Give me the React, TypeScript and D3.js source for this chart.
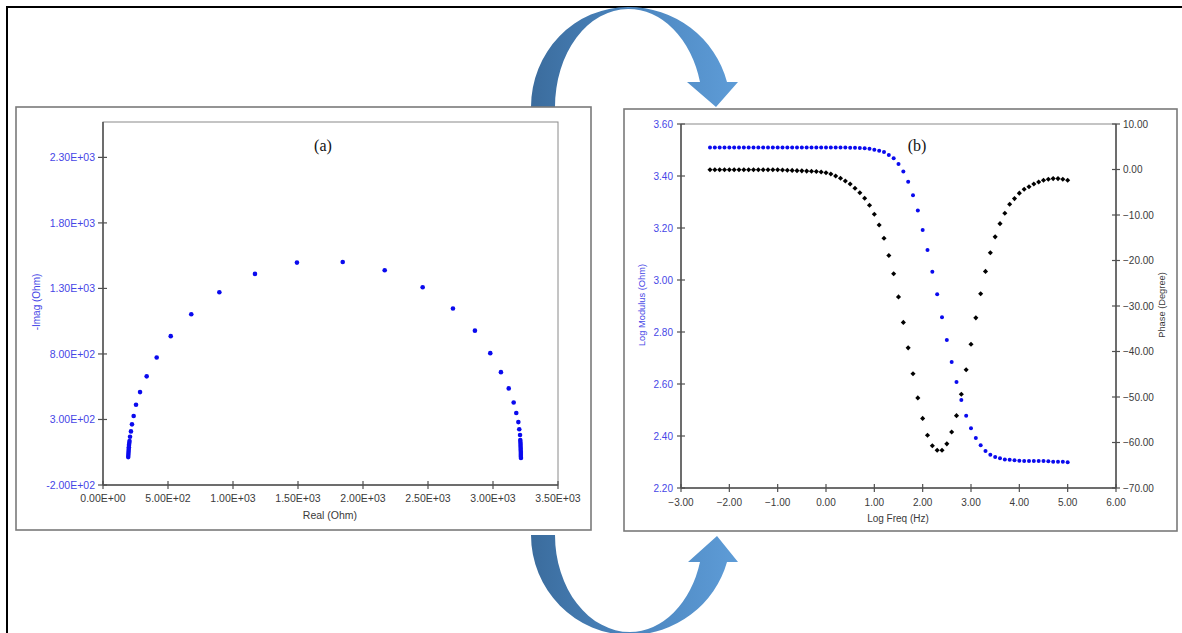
import React from "react";
import * as d3 from "d3";

// ---------- Panel (a): Nyquist data ----------
const nyqReal = [194, 195, 196, 197, 198, 199, 200, 202, 204, 208, 215, 223, 236, 254, 285, 336, 413, 521, 679, 895, 1169, 1492, 1844, 2167, 2459, 2692, 2861, 2979, 3061, 3121, 3159, 3179, 3195, 3202, 3208, 3210, 3211, 3212, 3212, 3213, 3213, 3214, 3214, 3214, 3215];
const nyqImag = [13, 28, 44, 59, 74, 89, 105, 120, 135, 168, 209, 263, 326, 412, 509, 629, 773, 936, 1103, 1271, 1411, 1497, 1502, 1439, 1309, 1147, 978, 806, 661, 537, 430, 349, 280, 225, 181, 143, 128, 112, 97, 82, 67, 51, 36, 21, 6];
const nyqXTicks = [0, 500, 1000, 1500, 2000, 2500, 3000, 3500];
const nyqYTicks = [-200, 300, 800, 1300, 1800, 2300];

// ---------- Panel (b): Bode data ----------
const logFreq = [-2.4, -2.3, -2.2, -2.1, -2.0, -1.9, -1.8, -1.7, -1.6, -1.5, -1.4, -1.3, -1.2, -1.1, -1.0, -0.9, -0.8, -0.7, -0.6, -0.5, -0.4, -0.3, -0.2, -0.1, 0.0, 0.1, 0.2, 0.3, 0.4, 0.5, 0.6, 0.7, 0.8, 0.9, 1.0, 1.1, 1.2, 1.3, 1.4, 1.5, 1.6, 1.7, 1.8, 1.9, 2.0, 2.1, 2.2, 2.3, 2.4, 2.5, 2.6, 2.7, 2.8, 2.9, 3.0, 3.1, 3.2, 3.3, 3.4, 3.5, 3.6, 3.7, 3.8, 3.9, 4.0, 4.1, 4.2, 4.3, 4.4, 4.5, 4.6, 4.7, 4.8, 4.9, 5.0];
const logModulus = [3.51, 3.51, 3.51, 3.51, 3.51, 3.51, 3.51, 3.51, 3.51, 3.51, 3.51, 3.51, 3.51, 3.51, 3.51, 3.51, 3.51, 3.51, 3.51, 3.51, 3.51, 3.51, 3.51, 3.51, 3.51, 3.51, 3.51, 3.51, 3.51, 3.509, 3.509, 3.508, 3.507, 3.505, 3.501, 3.497, 3.492, 3.481, 3.468, 3.446, 3.417, 3.378, 3.326, 3.267, 3.192, 3.115, 3.032, 2.945, 2.857, 2.769, 2.685, 2.608, 2.538, 2.478, 2.43, 2.392, 2.364, 2.342, 2.328, 2.319, 2.314, 2.31, 2.309, 2.307, 2.305, 2.304, 2.304, 2.304, 2.304, 2.304, 2.303, 2.301, 2.301, 2.301, 2.299];
const phaseDeg = [-0.05, -0.05, -0.05, -0.05, -0.05, -0.05, -0.05, -0.05, -0.05, -0.05, -0.05, -0.05, -0.05, -0.05, -0.05, -0.1, -0.15, -0.2, -0.25, -0.3, -0.35, -0.4, -0.45, -0.55, -0.7, -1.0, -1.43, -1.93, -2.53, -3.19, -4.13, -5.1, -6.33, -7.87, -9.85, -12.2, -15.1, -18.9, -22.9, -28.0, -33.6, -39.2, -44.9, -50.2, -54.7, -58.4, -60.7, -61.7, -61.7, -60.3, -57.7, -54.1, -49.4, -44.0, -38.4, -32.6, -27.3, -22.4, -18.3, -14.8, -11.9, -9.6, -7.65, -6.4, -5.2, -4.35, -3.78, -3.2, -2.75, -2.37, -2.15, -2.0, -2.0, -2.15, -2.37];
const bodeXTicks = [-3, -2, -1, 0, 1, 2, 3, 4, 5, 6];
const bodeLeftTicks = [2.2, 2.4, 2.6, 2.8, 3.0, 3.2, 3.4, 3.6];
const bodeRightTicks = [-70, -60, -50, -40, -30, -20, -10, 0, 10];

const SANS = "'Liberation Sans', Arial, sans-serif";
const SERIF = "'Liberation Serif', 'Times New Roman', serif";
const BLUE_TXT = "#4646e6";
const BLUE_PT = "#0a0aee";
const GRAY_TXT = "#3a3a3a";

function sci(v: number): string {
  const s = v.toExponential(2); // e.g. 2.30e+3
  const [m, e] = s.split("e");
  const sign = e[0] === "-" ? "-" : "+";
  const digits = e.replace(/^[+-]/, "").padStart(2, "0");
  return `${m}E${sign}${digits}`;
}

export default function App() {
  // scales panel a
  const xA = d3.scaleLinear().domain([0, 3500]).range([103, 558]);
  const yA = d3.scaleLinear().domain([-200, 2570]).range([485, 122]);
  // scales panel b
  const xB = d3.scaleLinear().domain([-3, 6]).range([681, 1116]);
  const yBL = d3.scaleLinear().domain([2.2, 3.6]).range([488, 124]);
  const yBR = d3.scaleLinear().domain([-70, 10]).range([488, 124]);
  const f2 = d3.format(".2f");
  const diamond = d3.symbol().type(d3.symbolSquare).size(13)() as string;

  const axisColor = "#505050";
  const frameColor = "#8a8a8a";

  return (
    <svg
      width={1182}
      height={633}
      style={{ position: "absolute", left: 0, top: 0, background: "#fff" }}
      fontFamily={SANS}
    >
      <defs>
        <linearGradient id="arrowGrad" gradientUnits="userSpaceOnUse" x1={531} y1={0} x2={738} y2={0}>
          <stop offset="0" stopColor="#3b6c9d" />
          <stop offset="0.45" stopColor="#4a84bd" />
          <stop offset="1" stopColor="#5e9cd7" />
        </linearGradient>
      </defs>
      <rect x={0} y={0} width={1182} height={633} fill="#fff" />
      {/* outer frame */}
      <rect x={7} y={7} width={1176} height={640} fill="none" stroke="#000" strokeWidth={2} />

      {/* curved arrows */}
      <path
        d="M531,107 A97,100 0 0 1 628,7 A102,100 0 0 1 727,82 L738,82 L716,107 L687,82 L700,82 A74,98 0 0 0 628,9 A73,98 0 0 0 555,107 Z"
        fill="url(#arrowGrad)"
      />
      <path
        d="M531,535 A99,100 0 0 0 630,635 A101,100 0 0 0 727,562 L738,562 L717,536 L688,562 L700,562 A73,97 0 0 1 630,632 A75,97 0 0 1 555,535 Z"
        fill="url(#arrowGrad)"
      />

      {/* ---------- Panel (a) ---------- */}
      <rect x={16} y={107} width={575} height={423} fill="#fff" stroke="#7a7a7a" strokeWidth={1.6} />
      <rect x={103} y={122} width={455} height={363} fill="#fff" stroke={frameColor} strokeWidth={1} />
      <line x1={103} y1={122} x2={103} y2={485} stroke={axisColor} strokeWidth={1.5} />
      <line x1={103} y1={485} x2={558} y2={485} stroke={axisColor} strokeWidth={1.5} />
      {nyqYTicks.map((t) => (
        <g key={"ya" + t}>
          <line x1={98} x2={107} y1={yA(t)} y2={yA(t)} stroke={axisColor} strokeWidth={1.2} />
          <text x={95} y={yA(t)} dy="0.35em" textAnchor="end" fontSize={10.5} fill={BLUE_TXT}>
            {sci(t)}
          </text>
        </g>
      ))}
      {nyqXTicks.map((t) => (
        <g key={"xa" + t}>
          <line x1={xA(t)} x2={xA(t)} y1={481} y2={489} stroke={axisColor} strokeWidth={1.2} />
          <text x={xA(t)} y={498} dy="0.35em" textAnchor="middle" fontSize={10.5} fill={GRAY_TXT}>
            {sci(t)}
          </text>
        </g>
      ))}
      <text x={330} y={515} dy="0.35em" textAnchor="middle" fontSize={10.5} fill={GRAY_TXT}>
        Real (Ohm)
      </text>
      <text
        transform="translate(36,302) rotate(-90)"
        dy="0.35em"
        textAnchor="middle"
        fontSize={10}
        fill={BLUE_TXT}
      >
        -Imag (Ohm)
      </text>
      <text x={323} y={145} dy="0.35em" textAnchor="middle" fontSize={16} fontFamily={SERIF} fill="#111">
        (a)
      </text>
      {nyqReal.map((r, i) => (
        <circle key={"n" + i} cx={xA(r)} cy={yA(nyqImag[i])} r={2.3} fill={BLUE_PT} />
      ))}

      {/* ---------- Panel (b) ---------- */}
      <rect x={624} y={109} width={553} height={422} fill="#fff" stroke="#7a7a7a" strokeWidth={1.6} />
      <rect x={681} y={124} width={435} height={364} fill="#fff" stroke={frameColor} strokeWidth={1} />
      <line x1={681} y1={124} x2={681} y2={488} stroke={axisColor} strokeWidth={1.5} />
      <line x1={1116} y1={124} x2={1116} y2={488} stroke={axisColor} strokeWidth={1.5} />
      <line x1={681} y1={488} x2={1116} y2={488} stroke={axisColor} strokeWidth={1.5} />
      {bodeLeftTicks.map((t) => (
        <g key={"yl" + t}>
          <line x1={677} x2={685} y1={yBL(t)} y2={yBL(t)} stroke={axisColor} strokeWidth={1.2} />
          <text x={673} y={yBL(t)} dy="0.35em" textAnchor="end" fontSize={10} fill={BLUE_TXT}>
            {f2(t)}
          </text>
        </g>
      ))}
      {bodeRightTicks.map((t) => (
        <g key={"yr" + t}>
          <line x1={1112} x2={1120} y1={yBR(t)} y2={yBR(t)} stroke={axisColor} strokeWidth={1.2} />
          <text x={1123} y={yBR(t)} dy="0.35em" textAnchor="start" fontSize={10} fill={GRAY_TXT}>
            {f2(t)}
          </text>
        </g>
      ))}
      {bodeXTicks.map((t) => (
        <g key={"xb" + t}>
          <line x1={xB(t)} x2={xB(t)} y1={484} y2={492} stroke={axisColor} strokeWidth={1.2} />
          <text x={xB(t)} y={502} dy="0.35em" textAnchor="middle" fontSize={10} fill={GRAY_TXT}>
            {f2(t)}
          </text>
        </g>
      ))}
      <text x={898} y={518} dy="0.35em" textAnchor="middle" fontSize={10} fill={GRAY_TXT}>
        Log Freq (Hz)
      </text>
      <text
        transform="translate(642,305) rotate(-90)"
        dy="0.35em"
        textAnchor="middle"
        fontSize={9.3}
        fill={BLUE_TXT}
      >
        Log Modulus (Ohm)
      </text>
      <text
        transform="translate(1162,305) rotate(-90)"
        dy="0.35em"
        textAnchor="middle"
        fontSize={9.3}
        fill={GRAY_TXT}
      >
        Phase (Degree)
      </text>
      <text x={917} y={145} dy="0.35em" textAnchor="middle" fontSize={16} fontFamily={SERIF} fill="#111">
        (b)
      </text>
      {logFreq.map((f, i) => (
        <path
          key={"p" + i}
          d={diamond}
          transform={`translate(${xB(f)},${yBR(phaseDeg[i])}) rotate(45)`}
          fill="#000"
        />
      ))}
      {logFreq.map((f, i) => (
        <circle key={"m" + i} cx={xB(f)} cy={yBL(logModulus[i])} r={2} fill={BLUE_PT} />
      ))}
    </svg>
  );
}
